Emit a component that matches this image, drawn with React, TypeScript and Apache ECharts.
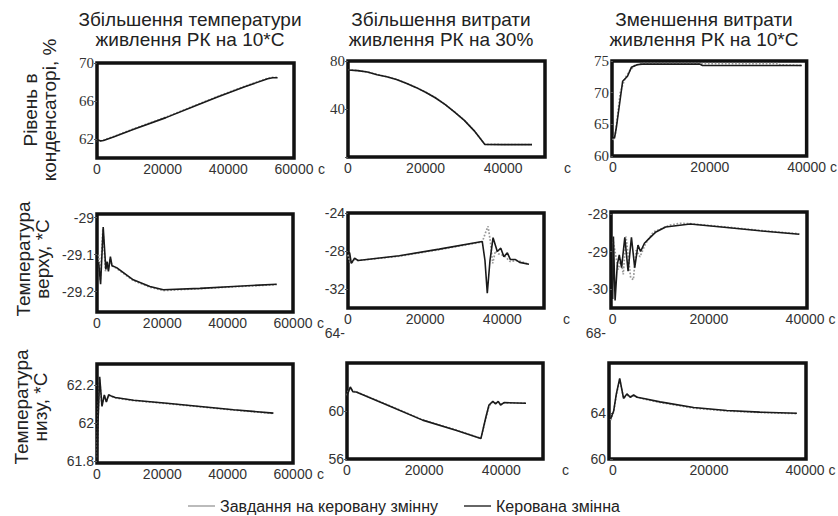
import React, { useEffect, useRef } from "react";
import * as echarts from "echarts";

// ---------- texts ----------
const colTitles = [
  "Збільшення температури\nживлення РК на 10*С",
  "Збільшення витрати\nживлення РК на 30%",
  "Зменшення витрати\nживлення РК на 10*С",
];
const rowTitles = ["Рівень в\nконденсаторі, %", "Температура\nверху, *С", "Температура\nнизу, *С"];
const legendNames = ["Завдання на керовану змінну", "Керована змінна"];
const xUnit = "с";

// ---------- tick labels ----------
const xTicksCol1 = [0, 20000, 40000, 60000];
const xTicksCol23 = [0, 20000, 40000];
const yTicksP1 = [62, 66, 70];
const yTicksP2 = [40, 80];
const yTicksP3 = [60, 65, 70, 75];
const yTicksP4 = [-29.2, -29.1, -29];
const yTicksP5 = [-32, -28, -24];
const yTicksP6 = [-30, -29, -28];
const yTicksP7 = [61.8, 62, 62.2];
const yTicksP8 = [56, 60];
const yTicksP9 = [60, 64];
const strayLabelP8 = "64";
const strayLabelP9 = "68";

// ---------- series values [time, value] ----------
const p1Act = [[0, 61.6], [400, 61.9], [1000, 61.8], [2000, 61.85], [5000, 62.2], [11000, 63.0], [21000, 64.25], [30000, 65.5], [36500, 66.4], [45000, 67.5], [52000, 68.35], [53500, 68.45], [55000, 68.45]];
const p1Ref = [[0, 61.7], [400, 61.85], [1000, 61.8], [2000, 61.9], [5000, 62.25], [11000, 63.05], [21000, 64.3], [30000, 65.55], [36500, 66.45], [45000, 67.55], [52000, 68.4], [53500, 68.5], [55000, 68.5]];

const p2Act = [[0, 72.5], [2500, 72], [5000, 70.8], [7500, 68.6], [10000, 66.8], [12500, 64.6], [15000, 61.5], [17500, 58], [20000, 54], [22500, 49.4], [25000, 43.8], [27500, 37.4], [30000, 30.5], [32500, 22], [35300, 10.5], [40000, 10.3], [47450, 10.3]];
const p2Ref = [[0, 72.6], [2500, 72.1], [5000, 70.9], [7500, 68.7], [10000, 66.9], [12500, 64.7], [15000, 61.6], [17500, 58.1], [20000, 54.1], [22500, 49.5], [25000, 43.9], [27500, 37.5], [30000, 30.6], [32500, 22.1], [35300, 10.6], [40000, 10.4], [47450, 10.4]];

const p3Act = [[0, 63], [300, 62.8], [700, 64.5], [2000, 71.8], [3000, 72.6], [3800, 74], [5000, 74.4], [6000, 74.5], [18000, 74.5], [18500, 74.3], [39000, 74.3]];
const p3Ref = [[0, 62.5], [500, 63.5], [1500, 70], [2500, 72.3], [3500, 73.5], [4500, 74.3], [6000, 74.6], [34000, 74.6], [34500, 74.4], [39000, 74.3]];

const p4Act = [[500, -29.12], [1100, -29.18], [1900, -29.025], [2700, -29.14], [3100, -29.12], [3500, -29.145], [4100, -29.105], [4600, -29.13], [6000, -29.135], [11100, -29.168], [16200, -29.186], [20300, -29.195], [31500, -29.191], [41700, -29.186], [55000, -29.18]];
const p4Ref = [[500, -29.1], [1000, -29.17], [1800, -29.03], [2600, -29.145], [3000, -29.115], [3500, -29.14], [4000, -29.11], [4600, -29.13], [6000, -29.137], [11100, -29.17], [16200, -29.188], [20300, -29.197], [31500, -29.192], [41700, -29.187], [55000, -29.181]];

const p5Act = [[0, -28.1], [430, -28.2], [860, -29.3], [1700, -28.75], [2600, -29.0], [13300, -28.5], [23650, -27.8], [34800, -27.0], [35500, -29], [36100, -32.45], [36800, -29], [37600, -26.6], [38700, -28.05], [39600, -27.7], [40400, -28.6], [41300, -28.2], [42100, -28.9], [43400, -28.9], [44500, -29.2], [46900, -29.4]];
const p5Ref = [[0, -28.4], [430, -29.1], [860, -29.3], [1700, -28.9], [2600, -29.0], [13300, -28.55], [23650, -27.85], [34800, -27.05], [35700, -26.0], [36300, -25.4], [36900, -27], [37500, -29.3], [38200, -28], [39000, -28.3], [40500, -28.5], [42000, -29.1], [44000, -29.0], [46900, -29.4]];

const p6Act = [[0, -30.26], [150, -28.6], [500, -30.3], [960, -29.35], [1370, -29.09], [1850, -29.43], [2520, -28.62], [3200, -29.52], [3900, -28.62], [4580, -29.43], [5260, -28.83], [5800, -29.0], [6600, -28.78], [7600, -28.65], [9000, -28.48], [11000, -28.35], [16100, -28.27], [23700, -28.36], [30600, -28.45], [38800, -28.54]];
const p6Ref = [[130, -28.74], [1160, -29.48], [1700, -29.2], [2200, -29.61], [2770, -28.6], [3740, -29.7], [4300, -29.75], [4850, -28.97], [5680, -29.14], [6800, -28.8], [8450, -28.48], [11900, -28.3], [14000, -28.25], [16100, -28.26], [23700, -28.35], [30600, -28.44], [38800, -28.53]];

const p7Act = [[0, 61.8], [300, 62.0], [820, 62.243], [1530, 62.087], [2240, 62.148], [2860, 62.11], [3570, 62.148], [4590, 62.14], [5600, 62.134], [11200, 62.12], [21400, 62.104], [31600, 62.087], [41800, 62.07], [54000, 62.052]];
const p7Ref = [[0, 61.82], [300, 62.02], [800, 62.23], [1500, 62.09], [2200, 62.145], [2850, 62.112], [3550, 62.146], [4590, 62.138], [5600, 62.132], [11200, 62.118], [21400, 62.102], [31600, 62.085], [41800, 62.068], [54000, 62.05]];

const p8Act = [[0, 61.2], [260, 61.5], [860, 62.0], [1550, 61.6], [2400, 61.58], [11000, 60.42], [19600, 59.24], [28200, 58.4], [34700, 57.7], [36000, 59.5], [36800, 60.5], [37800, 60.8], [38500, 60.6], [39200, 60.8], [39800, 60.5], [40700, 60.7], [46400, 60.65]];
const p8Ref = [[0, 61.3], [260, 61.6], [860, 61.95], [1550, 61.65], [2400, 61.6], [11000, 60.45], [19600, 59.27], [28200, 58.43], [34700, 57.72], [36000, 59.4], [36800, 60.4], [37800, 60.75], [38500, 60.65], [39200, 60.75], [39800, 60.55], [40700, 60.68], [46400, 60.65]];

const p9Act = [[-500, 63.5], [140, 64.2], [700, 65.7], [1400, 67.05], [2200, 65.3], [2900, 65.7], [3600, 65.4], [4300, 65.6], [5000, 65.4], [6400, 65.3], [9800, 65.0], [16800, 64.5], [23700, 64.24], [30600, 64.1], [38300, 64.0]];
const p9Ref = [[-500, 63.4], [140, 64.1], [700, 65.6], [1400, 66.95], [2200, 65.35], [2900, 65.6], [3600, 65.45], [4300, 65.55], [5000, 65.45], [6400, 65.25], [9800, 64.95], [16800, 64.45], [23700, 64.2], [30600, 64.07], [38300, 63.97]];

// ---------- layout ----------
type Panel = {
  rect: number[];
  xMin: number; xMax: number; xTicks: number[]; xGap: number;
  yMin: number; yMax: number; yTicks: number[]; yTickMarks?: number[]; serif?: boolean;
  act: number[][]; ref: number[][];
};

const panels: Panel[] = [
  { rect: [97, 63, 197, 95], xMin: 0, xMax: 60000, xTicks: xTicksCol1, xGap: 24, yMin: 60, yMax: 70, yTicks: yTicksP1, serif: true, act: p1Act, ref: p1Ref },
  { rect: [348, 61, 197, 96], xMin: 0, xMax: 50800, xTicks: xTicksCol23, xGap: 19, yMin: 0, yMax: 80, yTicks: yTicksP2, yTickMarks: [0, 40, 80], serif: true, act: p2Act, ref: p2Ref },
  { rect: [612, 61, 195, 95], xMin: -200, xMax: 40000, xTicks: xTicksCol23, xGap: 19, yMin: 60, yMax: 75, yTicks: yTicksP3, serif: true, act: p3Act, ref: p3Ref },
  { rect: [97, 214, 196, 98], xMin: 0, xMax: 60000, xTicks: xTicksCol1, xGap: 24, yMin: -29.255, yMax: -28.99, yTicks: yTicksP4, act: p4Act, ref: p4Ref },
  { rect: [348, 213, 196, 95], xMin: 0, xMax: 50800, xTicks: xTicksCol23, xGap: 19, yMin: -34, yMax: -24, yTicks: yTicksP5, act: p5Act, ref: p5Ref },
  { rect: [611, 212, 196, 96], xMin: -350, xMax: 40400, xTicks: xTicksCol23, xGap: 19, yMin: -30.5, yMax: -27.95, yTicks: yTicksP6, act: p6Act, ref: p6Ref },
  { rect: [97, 364, 196, 99], xMin: 0, xMax: 60000, xTicks: xTicksCol1, xGap: 24, yMin: 61.79, yMax: 62.31, yTicks: yTicksP7, act: p7Act, ref: p7Ref },
  { rect: [347, 363, 196, 96], xMin: 0, xMax: 50800, xTicks: xTicksCol23, xGap: 19, yMin: 56, yMax: 64, yTicks: yTicksP8, act: p8Act, ref: p8Ref },
  { rect: [609, 363, 197, 96], xMin: -830, xMax: 40200, xTicks: xTicksCol23, xGap: 19, yMin: 60, yMax: 68.4, yTicks: yTicksP9, act: p9Act, ref: p9Ref },
];

const SANS = '"Liberation Sans", Arial, sans-serif';
const SERIF = '"Liberation Serif", "Times New Roman", serif';

function buildOption() {
  const grid: any[] = [];
  const xAxis: any[] = [];
  const yAxis: any[] = [];
  const series: any[] = [];
  panels.forEach((p, i) => {
    grid.push({
      left: p.rect[0], top: p.rect[1], width: p.rect[2], height: p.rect[3],
      show: true, borderColor: "#111", borderWidth: 3.5, backgroundColor: "transparent",
      containLabel: false,
    });
    xAxis.push({
      type: "value", gridIndex: i, min: p.xMin, max: p.xMax,
      name: xUnit, nameLocation: "end", nameGap: p.xGap,
      nameTextStyle: { fontFamily: SANS, fontSize: 14, color: "#333", verticalAlign: "top", padding: [4, 0, 0, 0] },
      axisLine: { show: false }, axisTick: { show: false }, splitLine: { show: false },
      axisLabel: { customValues: p.xTicks, fontFamily: SANS, fontSize: 14, color: "#333", margin: 4, formatter: (v: number) => String(v) },
    });
    yAxis.push({
      type: "value", gridIndex: i, min: p.yMin, max: p.yMax,
      axisLine: { show: false }, splitLine: { show: false },
      axisTick: { show: true, customValues: p.yTickMarks || p.yTicks, length: 3, lineStyle: { color: "#555" } },
      axisLabel: {
        customValues: p.yTicks, fontFamily: p.serif ? SERIF : SANS, fontSize: p.serif ? 15 : 14, color: "#333", margin: 3,
        formatter: (v: number) => String(v),
      },
    });
    series.push({
      name: legendNames[0], type: "line", xAxisIndex: i, yAxisIndex: i, data: p.ref,
      symbol: "none", color: "#bbb", lineStyle: { type: "dotted", width: 1.7, color: "#999" }, z: 2,
    });
    series.push({
      name: legendNames[1], type: "line", xAxisIndex: i, yAxisIndex: i, data: p.act,
      symbol: "none", color: "#666", lineStyle: { width: 1.6, color: "#1a1a1a" }, z: 3,
    });
  });

  const colCenters = [190, 441, 704];
  const rowCenters: number[][] = [[40, 110], [33, 259], [31, 407]];
  const graphic: any[] = [];
  colTitles.forEach((t, i) => {
    graphic.push({
      type: "text", x: colCenters[i], y: 9,
      style: { text: t, fontFamily: SANS, fontSize: 19, lineHeight: 20, fill: "#222", align: "center", verticalAlign: "top" },
    });
  });
  rowTitles.forEach((t, i) => {
    graphic.push({
      type: "text", x: rowCenters[i][0], y: rowCenters[i][1], rotation: Math.PI / 2,
      style: { text: t, fontFamily: SANS, fontSize: 19, lineHeight: 19, fill: "#222", align: "center", verticalAlign: "middle" },
    });
  });
  graphic.push({
    type: "text", x: 345, y: 333,
    style: { text: strayLabelP8 + "-", fontFamily: SANS, fontSize: 14, fill: "#333", align: "right", verticalAlign: "middle" },
  });
  graphic.push({
    type: "text", x: 606, y: 333,
    style: { text: strayLabelP9 + "-", fontFamily: SANS, fontSize: 14, fill: "#333", align: "right", verticalAlign: "middle" },
  });

  return {
    animation: false,
    backgroundColor: "#fff",
    grid, xAxis, yAxis, series, graphic,
    legend: {
      data: [
        { name: legendNames[0], itemStyle: { color: "#bbb" } },
        { name: legendNames[1], itemStyle: { color: "#666" } },
      ],
      orient: "horizontal",
      left: 183, top: 493, itemWidth: 27, itemHeight: 2, itemGap: 26,
      icon: "rect",
      textStyle: { fontFamily: SANS, fontSize: 16, color: "#222" },
      selectedMode: false,
    },
  };
}

export default function App() {
  const ref = useRef<HTMLDivElement>(null);
  useEffect(() => {
    if (!ref.current) return;
    const chart = echarts.init(ref.current, null, { renderer: "svg" });
    chart.setOption(buildOption() as any);
    return () => chart.dispose();
  }, []);
  return <div ref={ref} style={{ position: "fixed", left: 0, top: 0, width: 838, height: 516, background: "#fff" }} />;
}
